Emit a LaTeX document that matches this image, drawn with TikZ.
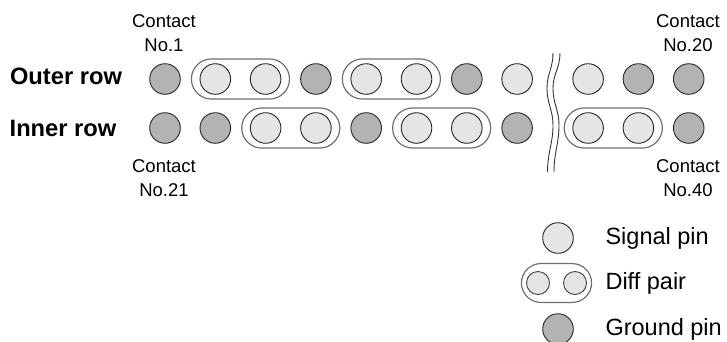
\documentclass[tikz,border=0pt]{standalone}
\usepackage{fontspec}
\setmainfont{Liberation Sans}
\usetikzlibrary{positioning, shapes.misc, fit}
\definecolor{sigfill}{HTML}{E5E5E5}
\definecolor{gndfill}{HTML}{B2B4B2}
\definecolor{pairline}{HTML}{707070}
\tikzset{
  sigpin/.style={
    circle,
    draw=black!85,
    fill=sigfill,
    line width=0.9pt,
    minimum size=30.6pt,
    inner sep=0pt
  },
  gndpin/.style={
    sigpin,
    fill=gndfill
  },
  smallpin/.style={
    sigpin,
    draw=black!75,
    minimum size=23pt
  },
  diffpair/.style={
    rounded rectangle,
    draw=pairline,
    line width=1.2pt,
    inner xsep=0.5pt,
    inner ysep=4.3pt
  },
  contact/.style={
    align=center,
    font=\fontsize{18.5}{24}\selectfont
  },
  rowlabel/.style={
    font=\fontsize{23.7}{28}\selectfont\bfseries
  },
  legendtext/.style={
    anchor=west,
    font=\fontsize{23.5}{28}\selectfont
  },
  breakline/.style={
    line width=0.9pt,
    draw=black!80
  }
}
\begin{document}
\begin{tikzpicture}[x=1pt, y=-1pt, node distance=17.5pt and 18.8pt]
  \useasboundingbox (0,0) rectangle (727,341);

  % outer row
  \node[gndpin] (o1) at (165,79) {};
  \node[sigpin, right=of o1] (o2) {};
  \node[sigpin, right=of o2] (o3) {};
  \node[gndpin, right=of o3] (o4) {};
  \node[sigpin, right=of o4] (o5) {};
  \node[sigpin, right=of o5] (o6) {};
  \node[gndpin, right=of o6] (o7) {};
  \node[sigpin, right=of o7] (o8) {};
  \node[sigpin, right=39.5pt of o8] (o9) {};
  \node[gndpin, right=of o9] (o10) {};
  \node[gndpin, right=of o10] (o11) {};

  % inner row
  \node[gndpin, below=of o1] (i1) {};
  \node[gndpin, below=of o2] (i2) {};
  \node[sigpin, below=of o3] (i3) {};
  \node[sigpin, below=of o4] (i4) {};
  \node[gndpin, below=of o5] (i5) {};
  \node[sigpin, below=of o6] (i6) {};
  \node[sigpin, below=of o7] (i7) {};
  \node[gndpin, below=of o8] (i8) {};
  \node[sigpin, below=of o9] (i9) {};
  \node[sigpin, below=of o10] (i10) {};
  \node[gndpin, below=of o11] (i11) {};

  \node[diffpair, fit=(o2)(o3)] (pairA) {};
  \node[diffpair, fit=(o5)(o6)] (pairB) {};
  \node[diffpair, fit=(i3)(i4)] (pairC) {};
  \node[diffpair, fit=(i6)(i7)] (pairD) {};
  \node[diffpair, fit=(i9)(i10)] (pairE) {};

  \node[rowlabel] (outer) at (66,76) {Outer row};
  \node[rowlabel] (inner) at (63,128) {Inner row};

  \node[contact] (no1) at (164,33) {Contact\\No.1};
  \node[contact] (no20) at (688,33) {Contact\\No.20};
  \node[contact] (no21) at (164,178) {Contact\\No.21};
  \node[contact] (no40) at (688,178) {Contact\\No.40};

  % break in the rows
  \coordinate (brkTopL) at (553,53);
  \coordinate (brkBotL) at (547.5,172);
  \coordinate (brkTopR) at (560,53);
  \coordinate (brkBotR) at (554,172);
  \draw[breakline] (brkTopL) .. controls (553,68) and (547,74) .. (547,88)
    .. controls (547,104) and (553,110) .. (553,125)
    .. controls (553,144) and (547.5,152) .. (brkBotL);
  \draw[breakline] (brkTopR) .. controls (560,68) and (553,74) .. (553,88)
    .. controls (553,104) and (559,110) .. (559,125)
    .. controls (559,144) and (554,152) .. (brkBotR);

  % legend
  \node[sigpin] (legsig) at (558,238) {};
  \node[smallpin] (legp1) at (538,283) {};
  \node[smallpin] (legp2) at (575,283) {};
  \node[diffpair, inner xsep=0.5pt, inner ysep=7.5pt, fit=(legp1)(legp2)] (legpair) {};
  \node[gndpin] (leggnd) at (558,329) {};

  \node[legendtext] (txtsig) at (602,238) {Signal pin};
  \node[legendtext] (txtpair) at (602,283) {Diff pair};
  \node[legendtext] (txtgnd) at (602,329) {Ground pin};
\end{tikzpicture}
\end{document}
